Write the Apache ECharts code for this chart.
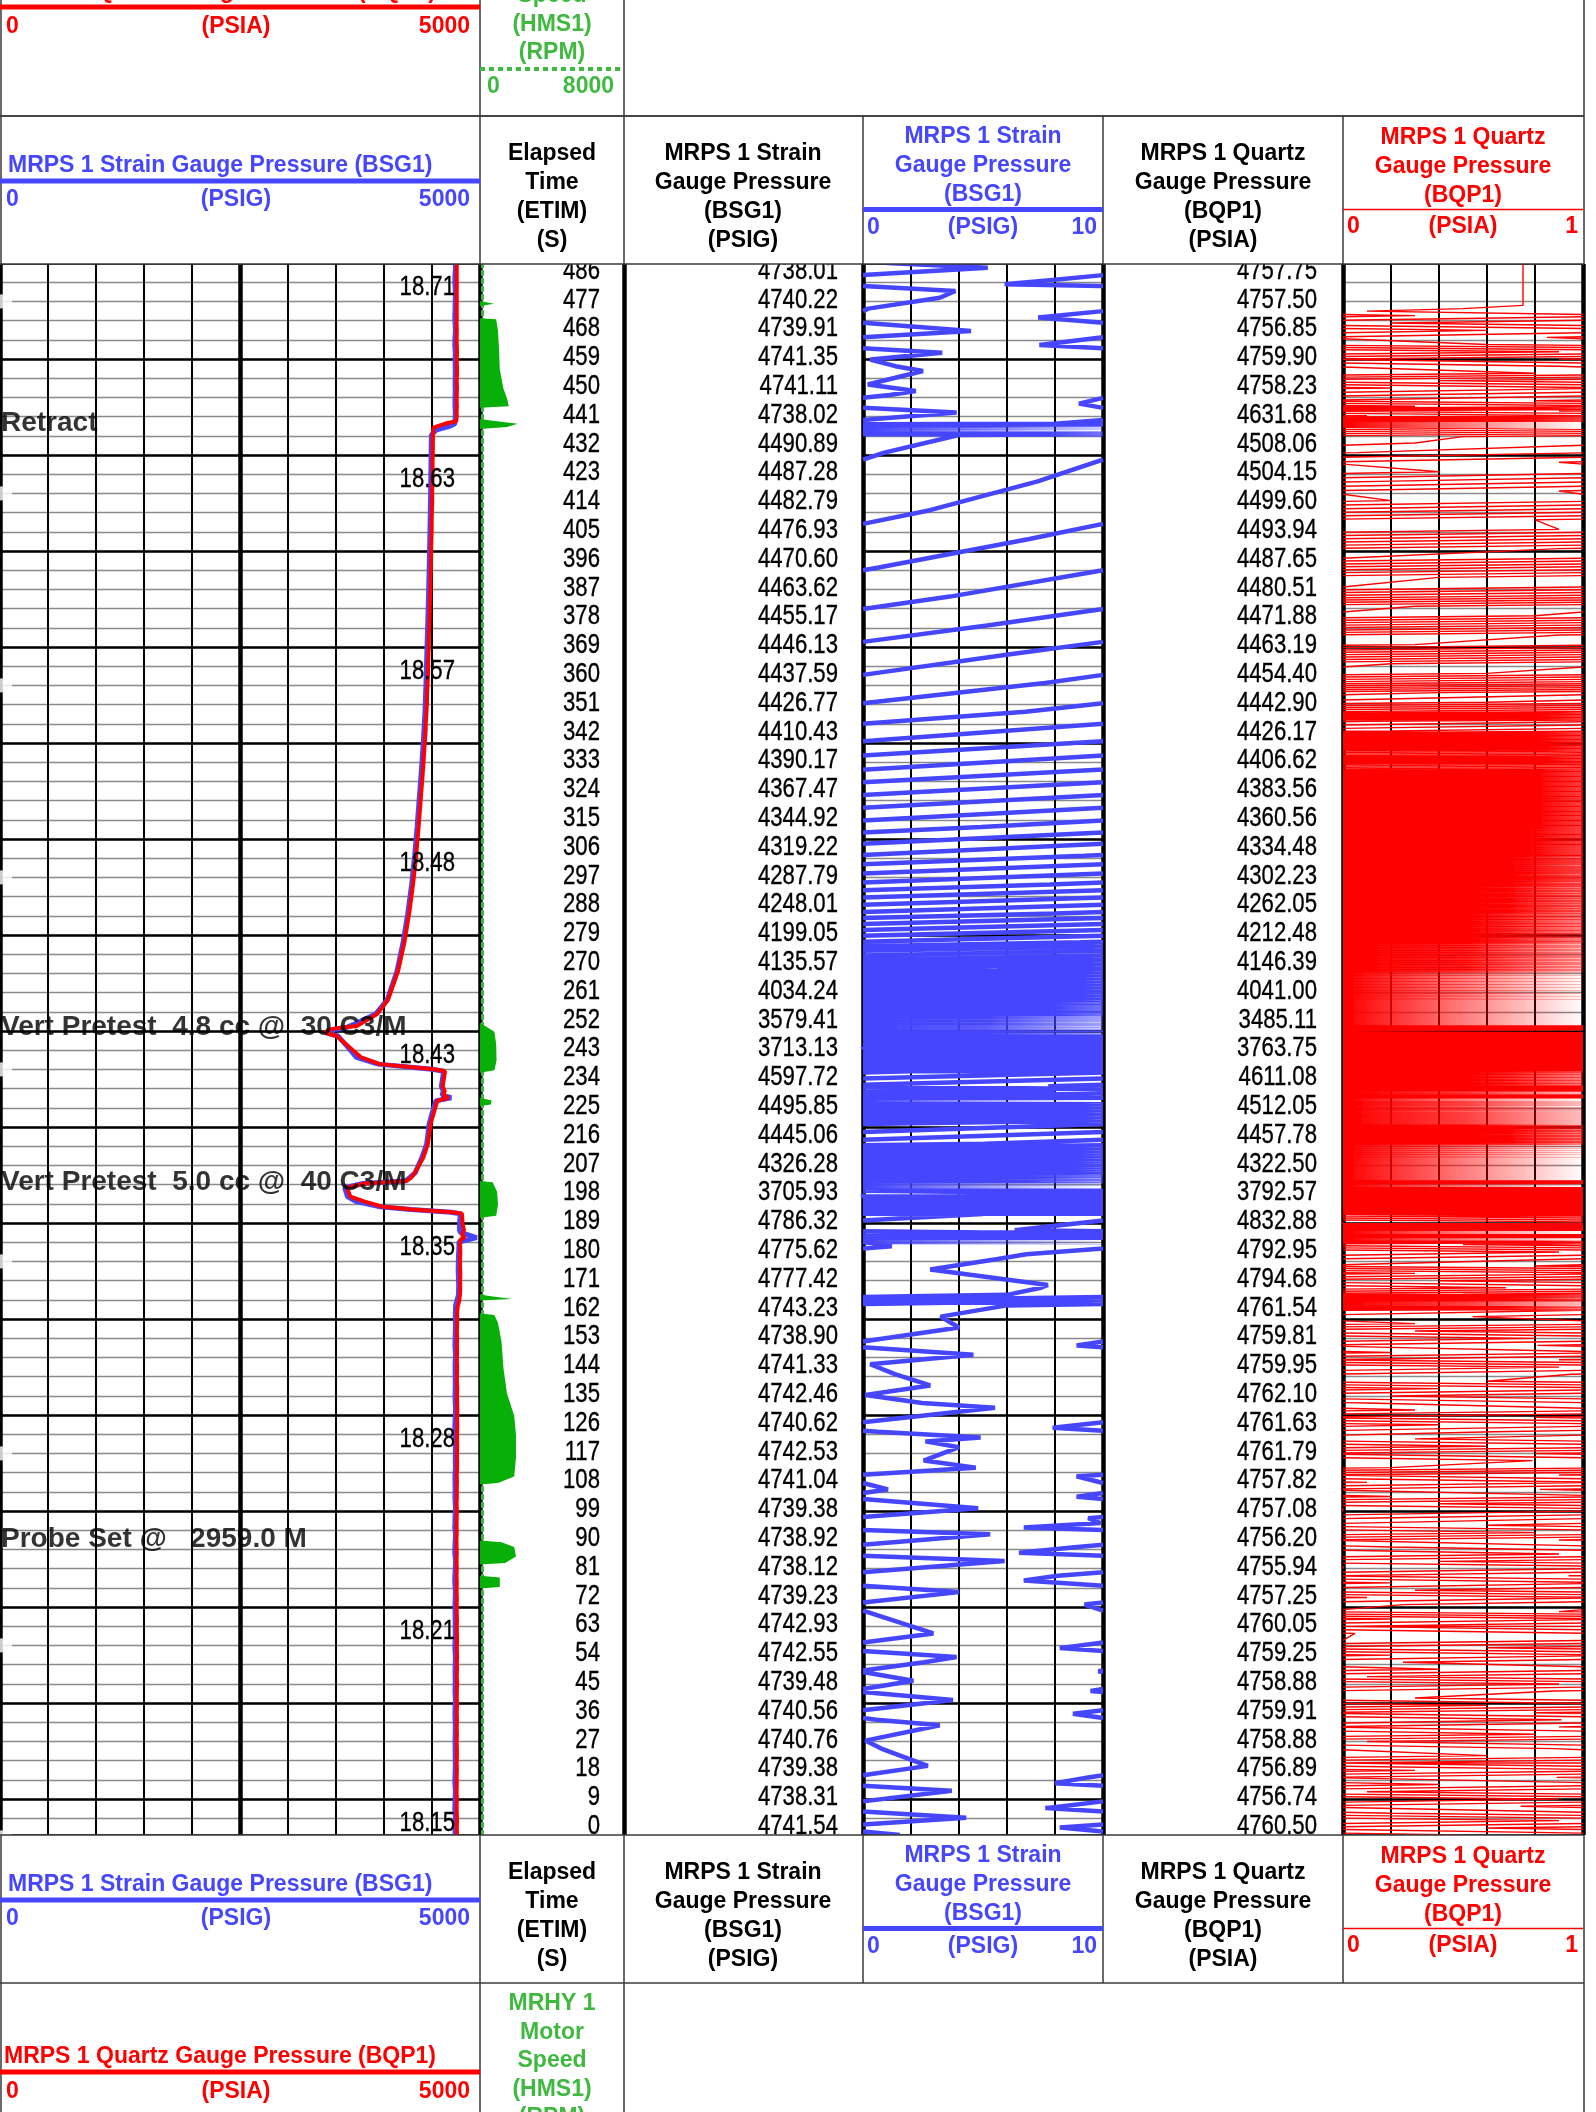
<!DOCTYPE html>
<html>
<head>
<meta charset="utf-8">
<title>MRPS pretest log</title>
<script src="https://cdn.jsdelivr.net/npm/echarts@6/dist/echarts.min.js"></script>
<style>
  html, body { margin: 0; padding: 0; background: #fff; }
  #log { width: 1596px; height: 2112px; }
</style>
</head>
<body>
<div id="log"></div>
<script>
// ---------------------------------------------------------------------------
// Data
// ---------------------------------------------------------------------------

// Elapsed time of the printed listing (s)
const ETIM = [0, 9, 18, 27, 36, 45, 54, 63, 72, 81, 90, 99, 108, 117, 126, 135, 144, 153, 162,
  171, 180, 189, 198, 207, 216, 225, 234, 243, 252, 261, 270, 279, 288, 297, 306, 315, 324,
  333, 342, 351, 360, 369, 378, 387, 396, 405, 414, 423, 432, 441, 450, 459, 468, 477, 486];

// MRPS 1 strain gauge pressure at each listed time (psig)
const BSG1_LISTED = [4741.54, 4738.31, 4739.38, 4740.76, 4740.56, 4739.48, 4742.55, 4742.93, 4739.23,
  4738.12, 4738.92, 4739.38, 4741.04, 4742.53, 4740.62, 4742.46, 4741.33, 4738.90, 4743.23,
  4777.42, 4775.62, 4786.32, 3705.93, 4326.28, 4445.06, 4495.85, 4597.72, 3713.13, 3579.41,
  4034.24, 4135.57, 4199.05, 4248.01, 4287.79, 4319.22, 4344.92, 4367.47, 4390.17, 4410.43,
  4426.77, 4437.59, 4446.13, 4455.17, 4463.62, 4470.60, 4476.93, 4482.79, 4487.28, 4490.89,
  4738.02, 4741.11, 4741.35, 4739.91, 4740.22, 4738.01];

// MRPS 1 quartz gauge pressure at each listed time (psia)
const BQP1_LISTED = [4760.50, 4756.74, 4756.89, 4758.88, 4759.91, 4758.88, 4759.25, 4760.05, 4757.25,
  4755.94, 4756.20, 4757.08, 4757.82, 4761.79, 4761.63, 4762.10, 4759.95, 4759.81, 4761.54,
  4794.68, 4792.95, 4832.88, 3792.57, 4322.50, 4457.78, 4512.05, 4611.08, 3763.75, 3485.11,
  4041.00, 4146.39, 4212.48, 4262.05, 4302.23, 4334.48, 4360.56, 4383.56, 4406.62, 4426.17,
  4442.90, 4454.40, 4463.19, 4471.88, 4480.51, 4487.65, 4493.94, 4499.60, 4504.15, 4508.06,
  4631.68, 4758.23, 4759.90, 4756.85, 4757.50, 4757.75];

// Strain gauge samples between the listed rows: [time s, psig]
const BSG1_SAMPLES = [
  [2.35, 4738.2], [5.4, 4744.3], [8.4, 4737.6], [13.8, 4743.7], [16.2, 4738.0], [21.6, 4742.7],
  [29.5, 4740.1], [34.3, 4743.2], [37.9, 4738.75], [42.2, 4743.75], [48.2, 4742.1], [51.2, 4739.8],
  [55.6, 4743.9], [58.4, 4738.2], [75.9, 4744.0], [79.5, 4736.7], [85.6, 4745.9], [88.2, 4736.5],
  [94.0, 4745.3], [96.1, 4736.7], [97.5, 4739.9], [102.1, 4744.8], [105.7, 4738.9], [112.1, 4738.9],
  [114.8, 4744.7], [121.2, 4744.0], [123.0, 4742.6], [124.2, 4744.9], [127.3, 4737.9], [133.5, 4745.5],
  [137.5, 4740.1], [140.5, 4742.8], [147.1, 4740.3], [150.1, 4744.6], [158.6, 4744.0],
  [165.5, 4746.0], [168.8, 4776.0], [171.9, 4777.7], [176.7, 4772.8], [181.5, 4776.8], [184.0, 4781.2],
  [185.3, 4780.0], [186.7, 4965.0], [188.3, 4795.0], [192.0, 4790.0], [194.1, 4795.0], [194.6, 4700.0],
  [195.5, 4280.0], [196.3, 3960.0], [199.5, 3620.0], [202.3, 3590.0], [203.6, 3780.0], [204.4, 4220.0],
  [205.5, 4270.0], [211.7, 4395.0], [222.2, 4470.0], [229.4, 4540.0], [230.4, 4700.0], [231.2, 4605.0],
  [232.5, 4618.0], [238.7, 4622.0], [239.3, 4500.0], [240.9, 3940.0], [246.0, 3630.0], [249.7, 3520.0],
  [250.7, 3395.0], [251.6, 3450.0], [253.5, 3700.0], [256.6, 3915.0],
  [437.5, 4494.0], [439.0, 4540.0], [440.3, 4690.0],
  [444.5, 4743.9], [446.0, 4739.95], [447.3, 4739.0], [449.2, 4740.05], [451.25, 4742.2], [453.3, 4740.2],
  [457.5, 4742.5], [461.1, 4740.3], [463.2, 4743.3], [464.6, 4739.95], [465.6, 4737.35], [470.0, 4744.5],
  [472.6, 4739.95], [474.2, 4737.3], [476.25, 4740.05], [480.4, 4743.2], [482.5, 4743.85], [484.1, 4739.9],
  [484.6, 4735.9], [487.5, 4740.05], [489.8, 4745.2], [491.25, 4741.0]
];

// Quartz gauge samples between the listed rows: [time s, psia]
const BQP1_SAMPLES = [
  [2.2, 4758.6], [4.5, 4760.9], [6.8, 4758.2], [11.2, 4758.9], [13.5, 4756.1], [15.8, 4758.4],
  [20.2, 4759.3], [22.5, 4757.0], [24.8, 4759.6], [29.2, 4757.1], [31.5, 4759.8], [33.8, 4757.9],
  [38.2, 4757.8], [40.5, 4760.6], [42.8, 4758.3], [47.2, 4760.9], [49.5, 4758.1], [51.8, 4760.4],
  [56.2, 4761.2], [58.5, 4758.6], [60.8, 4761.0], [65.2, 4758.0], [67.5, 4760.2], [69.8, 4756.9],
  [74.2, 4759.1], [76.5, 4756.3], [78.8, 4758.2], [83.2, 4758.0], [85.5, 4755.4], [87.8, 4757.9],
  [92.2, 4754.9], [94.5, 4757.8], [96.8, 4755.6], [101.2, 4759.0], [103.5, 4756.4], [105.8, 4759.2],
  [110.2, 4760.1], [112.5, 4757.9], [114.8, 4761.2], [119.2, 4759.8], [121.5, 4762.6], [123.8, 4760.3],
  [128.2, 4763.4], [130.5, 4760.8], [132.8, 4763.3], [137.2, 4760.2], [139.5, 4762.4], [141.8, 4759.6],
  [146.2, 4761.9], [148.5, 4758.9], [150.8, 4761.2], [155.2, 4761.8], [157.5, 4759.3], [159.8, 4762.3],
  [164.0, 4763.0], [165.5, 4770.0], [167.0, 4784.0], [169.0, 4791.5], [173.2, 4792.4], [175.5, 4795.3],
  [177.8, 4791.8], [182.2, 4794.9], [184.5, 4791.5], [186.0, 4795.0], [186.7, 4840.0], [187.6, 4812.0],
  [191.0, 4818.0], [193.4, 4814.0], [194.2, 4811.0], [194.6, 4720.0], [195.5, 4300.0], [196.3, 3990.0],
  [199.5, 3650.0], [202.3, 3615.0], [203.6, 3800.0], [204.4, 4236.0], [205.5, 4285.0], [211.7, 4409.0],
  [222.2, 4485.0], [229.4, 4555.0], [230.4, 4672.0], [231.2, 4620.0], [232.5, 4632.0], [238.7, 4636.0],
  [239.3, 4520.0], [240.9, 3958.0], [246.0, 3646.0], [249.7, 3507.0], [250.7, 3390.0], [251.6, 3420.0],
  [252.8, 3716.0], [256.6, 3930.0],
  [345.0, 4433.2], [348.0, 4436.1], [354.0, 4447.6], [357.0, 4449.4], [363.0, 4458.6], [366.0, 4459.2],
  [372.0, 4467.3], [375.0, 4467.9], [381.0, 4475.8], [384.0, 4476.3], [390.0, 4484.0], [393.0, 4484.4],
  [399.0, 4491.0], [402.0, 4490.9], [408.0, 4496.9], [411.0, 4496.8], [417.0, 4502.2], [420.0, 4501.9],
  [426.0, 4506.4], [429.0, 4505.9], [435.0, 4509.3],
  [437.0, 4509.5], [439.8, 4514.0], [441.8, 4752.0], [442.6, 4755.2], [443.5, 4758.1], [445.0, 4755.9],
  [446.5, 4759.3], [448.2, 4756.8], [452.2, 4760.2], [454.5, 4757.4], [456.8, 4760.8], [461.2, 4757.9],
  [463.5, 4760.9], [465.8, 4757.6], [470.2, 4758.6], [472.5, 4756.2], [474.8, 4758.3], [476.2, 4757.1],
  [478.0, 4757.75], [491.25, 4757.75]
];

// MRHY 1 motor speed: [time s, rpm]
const HMS1_RPM = [
  [0, 0], [77.0, 0], [77.5, 1100], [80.5, 1100], [81.0, 0],
  [84.5, 0], [85.0, 1400], [87.0, 2000], [90.0, 1900], [91.5, 1200], [92.0, 0],
  [109.5, 0], [110.0, 1000], [112.0, 1900], [118.0, 2000], [125.0, 2000], [131.0, 1900], [138.0, 1500],
  [146.0, 1300], [154.0, 1200], [160.0, 1000], [162.5, 800], [163.0, 0],
  [167.0, 0], [167.5, 1800], [168.5, 400], [169.0, 0],
  [192.9, 0], [193.5, 900], [197.0, 1000], [201.0, 950], [204.0, 700], [204.4, 0],
  [227.8, 0], [228.3, 600], [229.5, 650], [230.4, 0],
  [238.2, 0], [239.0, 800], [242.0, 920], [247.0, 900], [251.0, 800], [253.8, 0],
  [439.4, 0], [440.0, 1500], [441.0, 2100], [442.0, 600], [442.5, 0],
  [446.0, 0], [446.5, 1600], [449.0, 1500], [452.0, 1300], [458.0, 1100], [465.0, 1050], [470.0, 1000],
  [473.7, 900], [474.0, 0],
  [477.8, 0], [478.5, 780], [479.4, 0], [491.25, 0]
];

// Time-of-day index printed every tenth minor division of the grid
const INDEX_LABELS = ['18.71', '18.63', '18.57', '18.48', '18.43', '18.35', '18.28', '18.21', '18.15'];

// Event remarks
const EVENT_TIMES = [441.3, 252.5, 204.0, 92.5];
const EVENT_TEXT = ['Retract', 'Vert Pretest  4.8 cc @  30 C3/M', 'Vert Pretest  5.0 cc @  40 C3/M',
  'Probe Set @   2959.0 M'];

// ---------------------------------------------------------------------------
// Layout and styling
// ---------------------------------------------------------------------------
const DATA_TOP = 263, DATA_BOTTOM = 1835, DATA_H = DATA_BOTTOM - DATA_TOP;
const T_TOP = 491.25;              // elapsed time at the upper edge of the log body
const MINOR_DIVS = DATA_H / 19.2;  // horizontal grid divisions shown
const RIGHT_EDGE = 1584;
const COLS = [
  [0, 480],      // pressure track
  [480, 624],    // elapsed time + motor speed
  [624, 863],    // strain gauge listing
  [863, 1103],   // strain gauge wrapped track
  [1103, 1343],  // quartz gauge listing
  [1343, 1583]   // quartz gauge wrapped track
];
const BLUE = '#4646ff', RED = '#ff0000', GREEN = '#3fb93f', FILL_GREEN = '#06b006';
const SANS = '"Liberation Sans", Arial, Helvetica, sans-serif';
const HEAD_FONT = 'bold 23px ' + SANS;
const LIST_FONT = '27px ' + SANS;
const NARROW_SCALE = 0.82;         // listing digits are set condensed

// ---------------------------------------------------------------------------
// Helpers
// ---------------------------------------------------------------------------
function mergeSamples(listed, extra) {
  const pts = ETIM.map((t, i) => [t, listed[i]]).concat(extra);
  pts.sort((a, b) => a[0] - b[0]);
  return pts;
}

const GAP = ['-', '-'];
// Backup-style wrapping of a pressure curve into a track that spans `span` units
function wrapCurve(curve, span) {
  const out = [];
  const frac = v => v - Math.floor(v);
  for (let i = 0; i < curve.length; i++) {
    const t1 = curve[i][0], b = curve[i][1] / span;
    if (i > 0) {
      const t0 = curve[i - 1][0], a = curve[i - 1][1] / span;
      if (b > a) {
        for (let k = Math.floor(a) + 1; k <= b; k++) {
          const tk = t0 + (k - a) / (b - a) * (t1 - t0);
          out.push([span, tk], GAP, [0, tk]);
        }
      } else if (b < a) {
        for (let k = Math.ceil(a) - 1; k >= b; k--) {
          const tk = t0 + (a - k) / (a - b) * (t1 - t0);
          out.push([0, tk], GAP, [span, tk]);
        }
      }
    }
    out.push([frac(b) * span, t1]);
  }
  return out;
}

const bsg1Curve = mergeSamples(BSG1_LISTED, BSG1_SAMPLES);
const bqp1Curve = mergeSamples(BQP1_LISTED, BQP1_SAMPLES);

// ---------------------------------------------------------------------------
// Axes
// ---------------------------------------------------------------------------
const grids = COLS.map(([l, r]) => ({ left: l, top: DATA_TOP, width: r - l, height: DATA_H }));
const xAxes = [], yAxes = [];
function addAxis(list, gridIndex, opts) {
  list.push(Object.assign({
    type: 'value', gridIndex, show: true,
    axisLine: { show: false }, axisTick: { show: false }, axisLabel: { show: false },
    splitLine: { show: false }
  }, opts));
  return list.length - 1;
}
const hidden = { show: false };
const pxX = [], timeY = [];
COLS.forEach(([l, r], g) => {
  pxX[g] = addAxis(xAxes, g, Object.assign({ min: 0, max: r - l }, hidden));
  timeY[g] = addAxis(yAxes, g, Object.assign({ min: 0, max: T_TOP }, hidden));
});

// horizontal chart lines on the three curve tracks
const depthMinorY = {};
[0, 3, 5].forEach(g => {
  depthMinorY[g] = addAxis(yAxes, g, {
    min: 0, max: MINOR_DIVS, inverse: true, interval: 1, z: 1,
    splitLine: { show: true, lineStyle: { color: '#8a8a8a', width: 1.3 } }
  });
  addAxis(yAxes, g, {
    min: 0, max: MINOR_DIVS, inverse: true, interval: 5, z: 2,
    splitLine: { show: true, lineStyle: { color: '#000', width: 2.6 } }
  });
});

// vertical chart lines
const pressX = addAxis(xAxes, 0, { min: 0, max: 5000, interval: 500, z: 3,
  splitLine: { show: true, lineStyle: { color: '#000', width: 2 } } });
addAxis(xAxes, 0, { min: 0, max: 5000, interval: 2500, z: 3,
  splitLine: { show: true, lineStyle: { color: '#000', width: 4.5 } } });
const bsgWrapX = addAxis(xAxes, 3, { min: 0, max: 10, interval: 2, z: 3,
  splitLine: { show: true, lineStyle: { color: '#000', width: 2 } } });
addAxis(xAxes, 3, { min: 0, max: 10, interval: 10, z: 3,
  splitLine: { show: true, lineStyle: { color: '#000', width: 4.5 } } });
const bqpWrapX = addAxis(xAxes, 5, { min: 0, max: 1, interval: 0.2, z: 3,
  splitLine: { show: true, lineStyle: { color: '#000', width: 2 } } });
addAxis(xAxes, 5, { min: 0, max: 1, interval: 1, z: 3,
  splitLine: { show: true, lineStyle: { color: '#000', width: 4.5 } } });
const rpmX = addAxis(xAxes, 1, Object.assign({ min: 0, max: 8000 }, hidden));

// column borders inside the log body
addAxis(yAxes, 1, { min: 0, max: T_TOP, position: 'left', z: 3,
  axisLine: { show: true, lineStyle: { color: '#000', width: 3 } } });
addAxis(yAxes, 1, { min: 0, max: T_TOP, position: 'left', offset: -2, z: 4,
  axisLine: { show: true, lineStyle: { color: GREEN, width: 3, type: [4, 4] } } });
addAxis(yAxes, 2, { min: 0, max: T_TOP, position: 'left', z: 3,
  axisLine: { show: true, lineStyle: { color: '#000', width: 4.5 } } });

// ---------------------------------------------------------------------------
// Series
// ---------------------------------------------------------------------------
// right-aligned condensed text anchored at [px, value] points of a column
function listingSeries(g, yIdx, items, dy) {
  return {
    type: 'custom', xAxisIndex: pxX[g], yAxisIndex: yIdx, silent: true, clip: false, z: 20,
    data: items.map(it => [it[0], it[1]]),
    renderItem: (params, api) => {
      const pt = api.coord([api.value(0), api.value(1)]);
      return {
        type: 'text', x: pt[0], y: pt[1] + dy, scaleX: NARROW_SCALE, scaleY: 1,
        style: { text: items[params.dataIndex][2], x: 0, y: 0, font: LIST_FONT, fill: '#000',
          stroke: '#000', lineWidth: 0.35,
          textAlign: 'right', textVerticalAlign: 'middle', align: 'right', verticalAlign: 'middle' }
      };
    }
  };
}

const series = [
  // pressure track curves
  { type: 'line', name: 'BSG1', xAxisIndex: pressX, yAxisIndex: timeY[0],
    data: bsg1Curve.map(([t, p]) => [p, t]), showSymbol: false, symbol: 'none', z: 10,
    lineStyle: { color: BLUE, width: 5 } },
  { type: 'line', name: 'BQP1', xAxisIndex: pressX, yAxisIndex: timeY[0],
    data: bqp1Curve.map(([t, p]) => [p, t]), showSymbol: false, symbol: 'none', z: 11,
    lineStyle: { color: RED, width: 4 } },
  // index notches on the left border
  { type: 'scatter', xAxisIndex: pxX[0], yAxisIndex: depthMinorY[0], silent: true, clip: false, z: 9,
    data: INDEX_LABELS.map((s, k) => [0, 2 + 10 * k]), symbol: 'rect', symbolSize: [12, 14],
    symbolOffset: [6, 0], itemStyle: { color: '#fff' } },
  listingSeries(0, depthMinorY[0], INDEX_LABELS.map((s, k) => [455, 2 + 10 * k, s]), -14),
  // event remarks
  { type: 'scatter', xAxisIndex: pxX[0], yAxisIndex: timeY[0], silent: true, clip: false, z: 30,
    symbolSize: 0, data: EVENT_TIMES.map((t, i) => [0, t, EVENT_TEXT[i]]),
    label: { show: true, position: 'right', distance: 1, formatter: p => p.value[2],
      fontFamily: SANS, fontWeight: 'bold', fontSize: 28, color: '#000' } },
  // motor speed fill
  { type: 'custom', xAxisIndex: rpmX, yAxisIndex: timeY[1], silent: true, z: 8,
    data: HMS1_RPM.map(([t, r]) => [r, t]),
    renderItem: (params, api) => {
      if (params.dataIndex !== 0) return null;
      const pts = [api.coord([0, HMS1_RPM[0][0]])];
      HMS1_RPM.forEach(([t, r]) => pts.push(api.coord([r, t])));
      pts.push(api.coord([0, HMS1_RPM[HMS1_RPM.length - 1][0]]));
      return { type: 'polygon', shape: { points: pts }, style: { fill: FILL_GREEN } };
    } },
  // elapsed time listing
  listingSeries(1, timeY[1], ETIM.map(t => [120, t, String(t)]), -8.5),
  // strain gauge listing
  listingSeries(2, timeY[2], ETIM.map((t, i) => [214, t, BSG1_LISTED[i].toFixed(2)]), -8.5),
  // strain gauge wrapped 0-10 psi
  { type: 'line', name: 'BSG1 0-10', xAxisIndex: bsgWrapX, yAxisIndex: timeY[3],
    data: wrapCurve(bsg1Curve, 10), showSymbol: false, symbol: 'none', connectNulls: false, z: 10,
    lineStyle: { color: BLUE, width: 4.5 } },
  // quartz gauge listing
  listingSeries(4, timeY[4], ETIM.map((t, i) => [214, t, BQP1_LISTED[i].toFixed(2)]), -8.5),
  // quartz gauge wrapped 0-1 psi
  { type: 'line', name: 'BQP1 0-1', xAxisIndex: bqpWrapX, yAxisIndex: timeY[5],
    data: wrapCurve(bqp1Curve, 1), showSymbol: false, symbol: 'none', connectNulls: false, z: 10,
    lineStyle: { color: RED, width: 1.4 } }
];

// ---------------------------------------------------------------------------
// Header and footer panels
// ---------------------------------------------------------------------------
const graphic = [];
function gRect(x, y, width, height) {
  graphic.push({ type: 'rect', z: 49, silent: true, shape: { x, y, width, height },
    style: { fill: '#fff' } });
}
function gLine(x1, y1, x2, y2, stroke, width, dash) {
  graphic.push({ type: 'line', z: 50, silent: true,
    shape: { x1, y1, x2, y2 },
    style: { stroke, lineWidth: width, lineDash: dash || null } });
}
function gText(text, x, y, fill, align, font) {
  graphic.push({ type: 'text', z: 51, silent: true,
    style: { text, x, y, fill, font: font || HEAD_FONT,
      textAlign: align || 'center', textVerticalAlign: 'middle',
      align: align || 'center', verticalAlign: 'middle' } });
}
function stack(lines, x, y0, step, fill) {
  lines.forEach((s, i) => gText(s, x, y0 + i * step, fill, 'center'));
}
const BORDER = '#3a3a3a';

// panel with the curve scales and column titles
function curvePanel(y0) {
  const h = 148;
  gRect(0, y0, RIGHT_EDGE + 2, h);
  gLine(0, y0, RIGHT_EDGE, y0, BORDER, 1.5);
  gLine(0, y0 + h, RIGHT_EDGE, y0 + h, BORDER, 1.5);
  [1, 480, 624, 863, 1103, 1343, RIGHT_EDGE].forEach(x => gLine(x, y0, x, y0 + h, BORDER, 1.5));
  gText('MRPS 1 Strain Gauge Pressure (BSG1)', 8, y0 + 50, BLUE, 'left');
  gLine(0, y0 + 65, 480, y0 + 65, BLUE, 5);
  gText('0', 6, y0 + 84, BLUE, 'left');
  gText('(PSIG)', 236, y0 + 84, BLUE, 'center');
  gText('5000', 470, y0 + 84, BLUE, 'right');
  stack(['Elapsed', 'Time', '(ETIM)', '(S)'], 552, y0 + 38, 29, '#000');
  stack(['MRPS 1 Strain', 'Gauge Pressure', '(BSG1)', '(PSIG)'], 743, y0 + 38, 29, '#000');
  stack(['MRPS 1 Strain', 'Gauge Pressure', '(BSG1)'], 983, y0 + 21, 28.7, BLUE);
  gLine(863, y0 + 93.5, 1103, y0 + 93.5, BLUE, 5);
  gText('0', 867, y0 + 112, BLUE, 'left');
  gText('(PSIG)', 983, y0 + 112, BLUE, 'center');
  gText('10', 1097, y0 + 112, BLUE, 'right');
  stack(['MRPS 1 Quartz', 'Gauge Pressure', '(BQP1)', '(PSIA)'], 1223, y0 + 38, 29, '#000');
  stack(['MRPS 1 Quartz', 'Gauge Pressure', '(BQP1)'], 1463, y0 + 22, 29, RED);
  gLine(1343, y0 + 93.5, 1583, y0 + 93.5, RED, 1.5);
  gText('0', 1347, y0 + 111, RED, 'left');
  gText('(PSIA)', 1463, y0 + 111, RED, 'center');
  gText('1', 1578, y0 + 111, RED, 'right');
}

// panel with the quartz scale and motor speed scale
function speedPanel(y0) {
  const h = 198;
  gRect(0, y0, RIGHT_EDGE + 2, h);
  gLine(0, y0 + h, RIGHT_EDGE, y0 + h, BORDER, 1.5);
  [1, 480, 624, RIGHT_EDGE].forEach(x => gLine(x, y0, x, y0 + h, BORDER, 1.5));
  gText('MRPS 1 Quartz Gauge Pressure (BQP1)', 4, y0 + 74, RED, 'left');
  gLine(0, y0 + 89, 480, y0 + 89, RED, 5);
  gText('0', 6, y0 + 109, RED, 'left');
  gText('(PSIA)', 236, y0 + 109, RED, 'center');
  gText('5000', 470, y0 + 109, RED, 'right');
  stack(['MRHY 1', 'Motor', 'Speed', '(HMS1)', '(RPM)'], 552, y0 + 21, 28.4, GREEN);
  gLine(480, y0 + 151, 624, y0 + 151, GREEN, 4, [5, 4]);
  gText('0', 487, y0 + 169, GREEN, 'left');
  gText('8000', 614, y0 + 169, GREEN, 'right');
}

speedPanel(-82);
curvePanel(116);
curvePanel(DATA_BOTTOM);
speedPanel(DATA_BOTTOM + 148);

// ---------------------------------------------------------------------------
const chart = echarts.init(document.getElementById('log'), null, { renderer: 'canvas' });
chart.setOption({
  animation: false,
  backgroundColor: '#fff',
  grid: grids,
  xAxis: xAxes,
  yAxis: yAxes,
  series,
  graphic
});
</script>
</body>
</html>
